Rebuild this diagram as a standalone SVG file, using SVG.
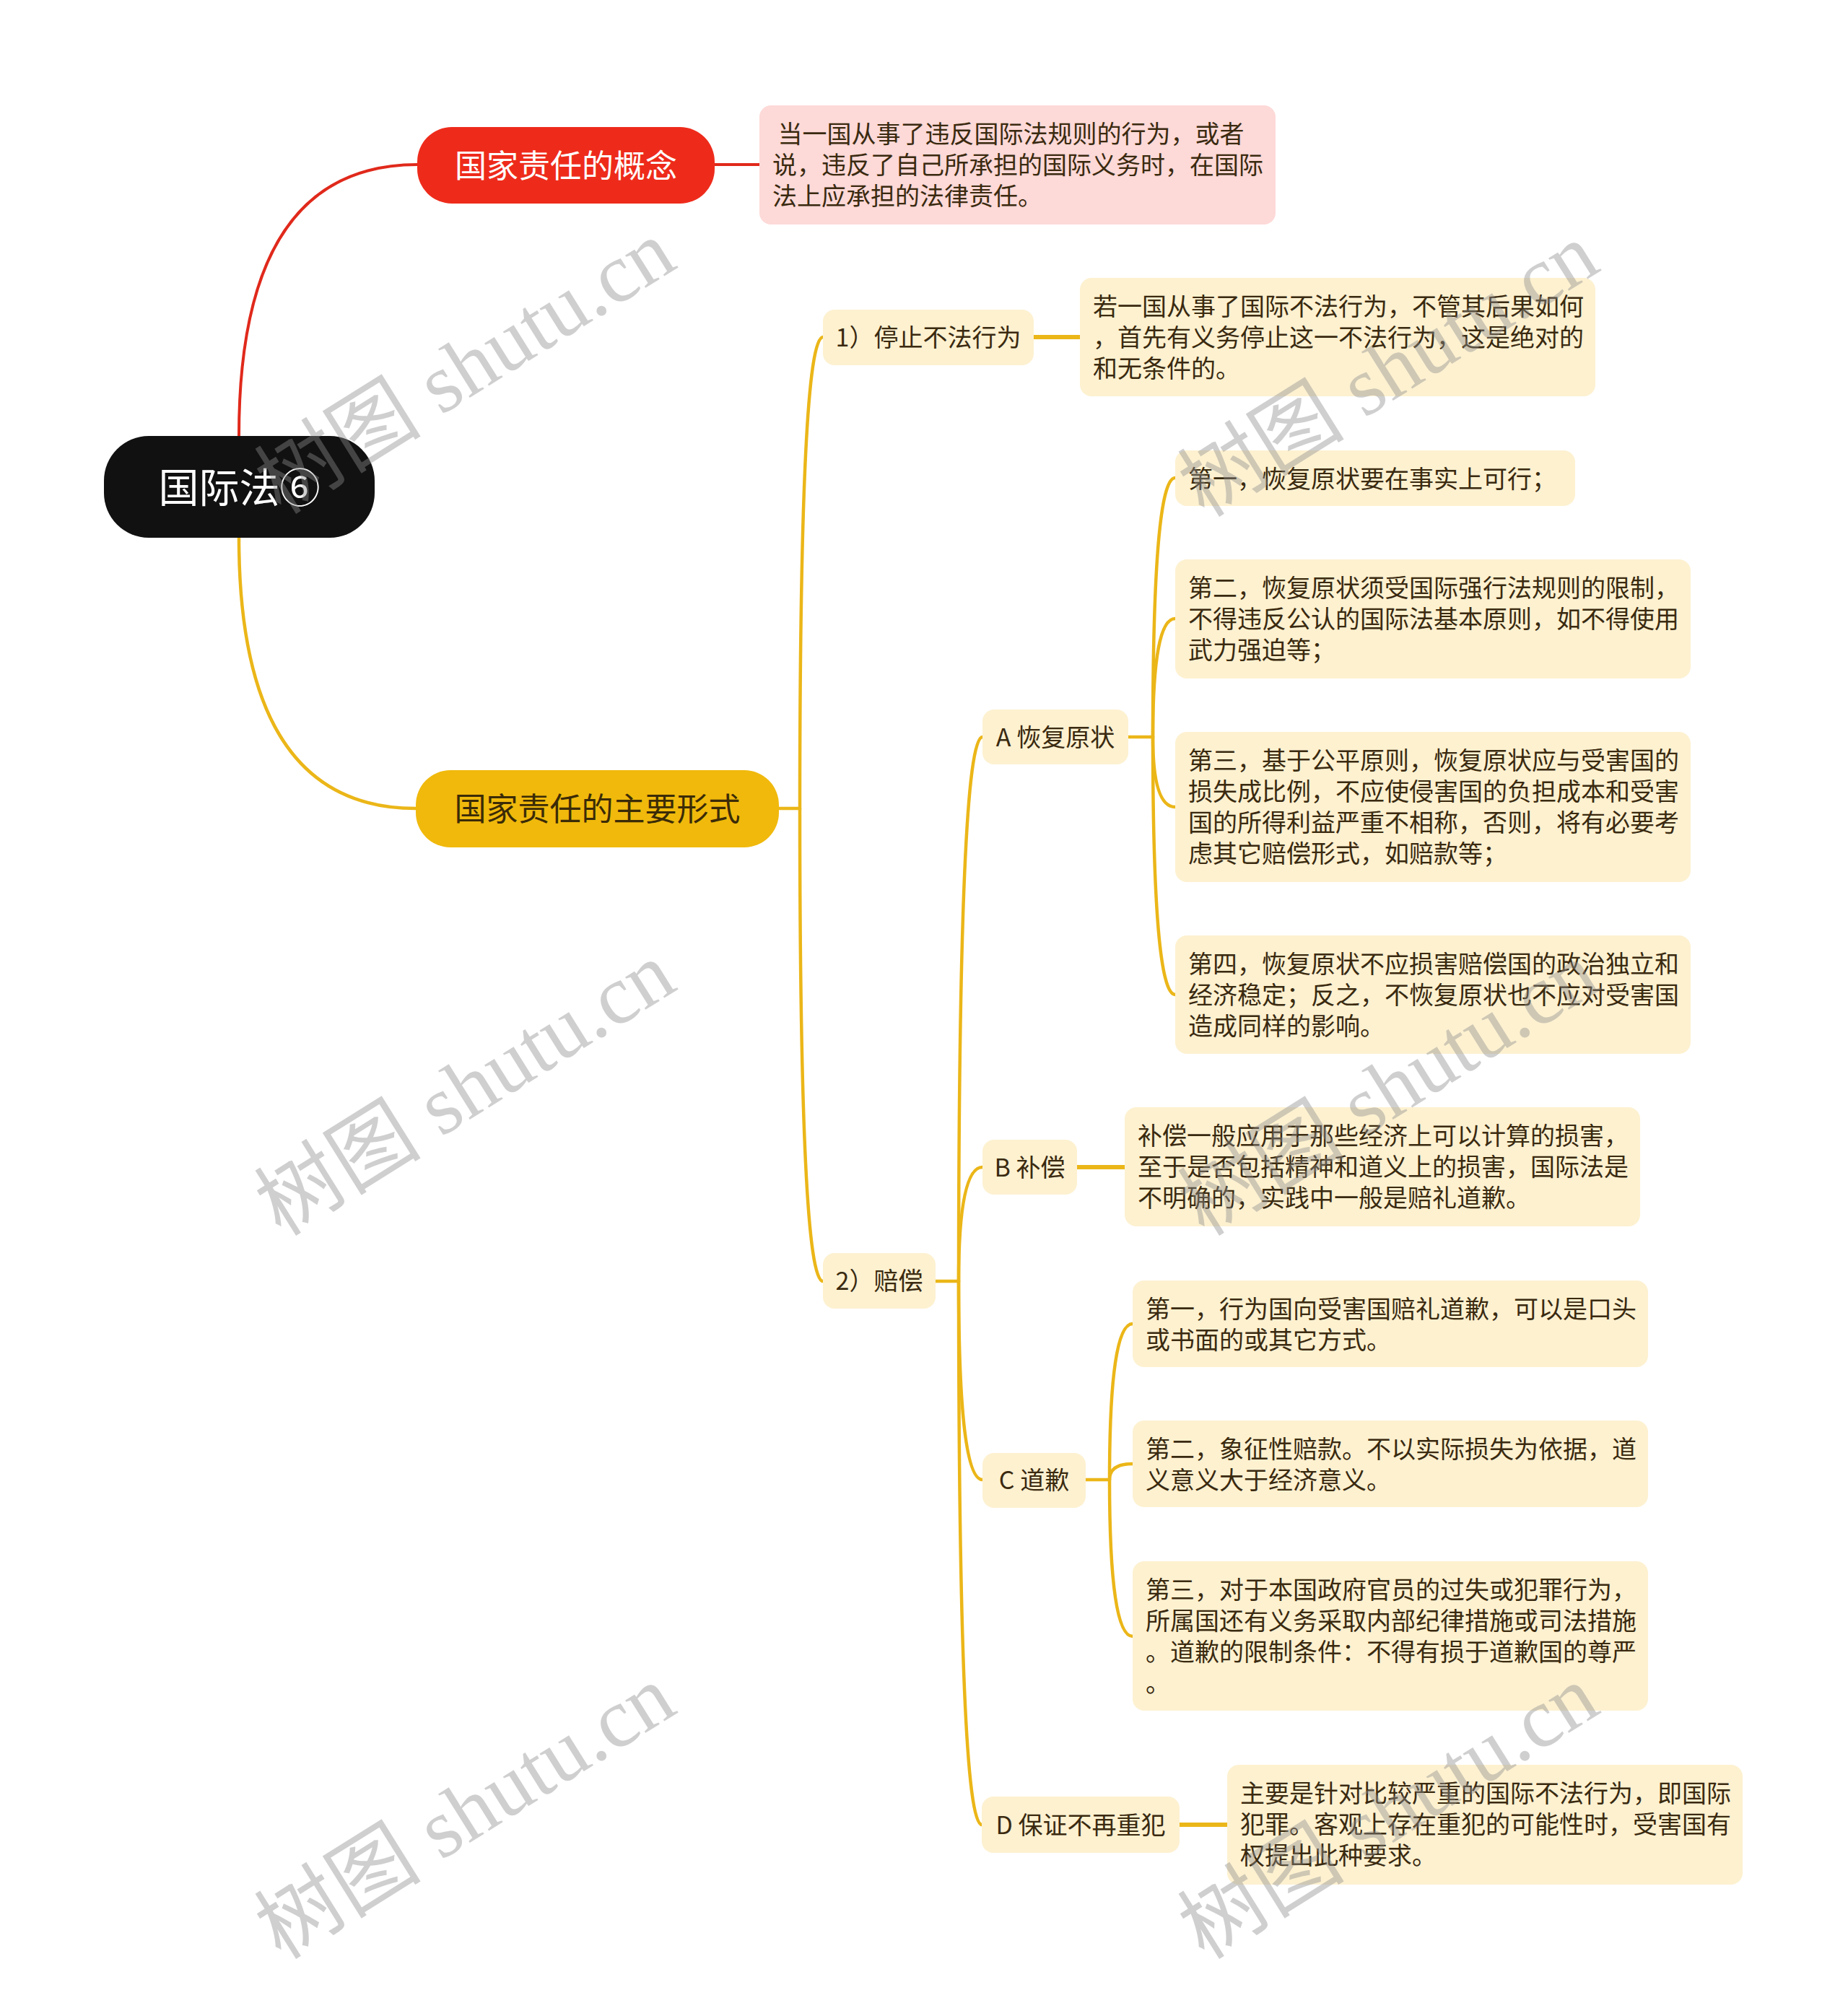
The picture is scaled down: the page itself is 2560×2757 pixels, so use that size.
<svg xmlns="http://www.w3.org/2000/svg" width="2560" height="2757" viewBox="0 0 2560 2757">
<style>
.t{font-family:"Noto Sans CJK SC","Noto Sans",sans-serif;font-size:34px;fill:#3a2a10}
.tm{text-anchor:middle}
.n{fill:#fdf1d0}
.cy{fill:none;stroke:#ebb618;stroke-width:4.5;stroke-linecap:round}
.sy{fill:none;stroke:#ebb618;stroke-width:6}
.cr{fill:none;stroke:#e0291b;stroke-width:4}
.wm{font-family:"Liberation Serif","Noto Sans CJK SC",serif;font-size:116px;fill:#8c8c8c;fill-opacity:0.42;text-anchor:middle}
</style>
<rect width="2560" height="2757" fill="#ffffff"/>
<g id="connectors">
<path class="cr" d="M331 604 Q331 228 578 228"/>
<path class="cr" d="M990 228 H1052"/>
<path class="cy" d="M331 745 Q331 1120 576 1120"/>
<path class="cy" d="M1079 1120 H1108"/>
<path class="cy" d="M1108 1120 Q1108 467 1140 467"/>
<path class="cy" d="M1108 1120 Q1108 1775 1140 1775"/>
<path class="sy" d="M1432 467 H1496"/>
<path class="cy" d="M1296 1775 H1328"/>
<path class="cy" d="M1328 1775 Q1328 1021 1361 1021"/>
<path class="cy" d="M1328 1775 Q1328 1617 1361 1617"/>
<path class="cy" d="M1328 1775 Q1328 2050 1361 2050"/>
<path class="cy" d="M1328 1775 Q1328 2528 1360 2528"/>
<path class="cy" d="M1563 1021 H1597"/>
<path class="cy" d="M1597 1021 Q1597 662 1628 662"/>
<path class="cy" d="M1597 1021 Q1597 857 1628 857"/>
<path class="cy" d="M1597 1021 Q1597 1118 1628 1118"/>
<path class="cy" d="M1597 1021 Q1597 1378 1628 1378"/>
<path class="sy" d="M1492 1617 H1558"/>
<path class="cy" d="M1504 2050 H1537"/>
<path class="cy" d="M1537 2050 Q1537 1834 1569 1834"/>
<path class="cy" d="M1537 2050 Q1537 2028 1569 2028"/>
<path class="cy" d="M1537 2050 Q1537 2267 1569 2267"/>
<path class="sy" d="M1634 2528 H1700"/>
</g>
<g id="root">
<rect x="144" y="604" width="375" height="141" rx="62" fill="#111111"/>
<text class="t tm" x="331.5" y="696" style="font-size:56px;fill:#ffffff">国际法⑥</text>
</g>
<g id="concept">
<rect x="578" y="176" width="412" height="106" rx="48" fill="#ee2b1b"/>
<text class="t tm" x="784" y="246" style="font-size:44px;fill:#ffffff">国家责任的概念</text>
</g>
<g id="concept-note">
<rect x="1052" y="146" width="715" height="165" rx="16" fill="#fdd9d7"/>
<text class="t" x="1070" y="197.5" xml:space="preserve"> 当一国从事了违反国际法规则的行为，或者</text>
<text class="t" x="1070" y="240.8">说，违反了自己所承担的国际义务时，在国际</text>
<text class="t" x="1070" y="284.1">法上应承担的法律责任。</text>
</g>
<g id="forms">
<rect x="576" y="1067" width="503" height="107" rx="48" fill="#f0b90c"/>
<text class="t tm" x="827.5" y="1137" style="font-size:44px;fill:#3b2b07">国家责任的主要形式</text>
</g>
<g id="stop">
<rect class="n" x="1140" y="429" width="292" height="77" rx="16"/>
<text class="t tm" x="1286" y="480">1）停止不法行为</text>
</g>
<g id="stop-note">
<rect class="n" x="1496" y="385" width="714" height="164" rx="16"/>
<text class="t" x="1514" y="436.5">若一国从事了国际不法行为，不管其后果如何</text>
<text class="t" x="1514" y="479.8">，首先有义务停止这一不法行为，这是绝对的</text>
<text class="t" x="1514" y="523.1">和无条件的。</text>
</g>
<g id="comp">
<rect class="n" x="1140" y="1736" width="156" height="77" rx="16"/>
<text class="t tm" x="1218" y="1787">2）赔偿</text>
</g>
<g id="a">
<rect class="n" x="1361" y="983" width="202" height="76" rx="16"/>
<text class="t tm" x="1462" y="1033.5">A 恢复原状</text>
</g>
<g id="a1">
<rect class="n" x="1628" y="624" width="554" height="77" rx="16"/>
<text class="t" x="1646" y="675.5">第一，恢复原状要在事实上可行；</text>
</g>
<g id="a2">
<rect class="n" x="1628" y="775" width="714" height="165" rx="16"/>
<text class="t" x="1646" y="826.5">第二，恢复原状须受国际强行法规则的限制，</text>
<text class="t" x="1646" y="869.8">不得违反公认的国际法基本原则，如不得使用</text>
<text class="t" x="1646" y="913.1">武力强迫等；</text>
</g>
<g id="a3">
<rect class="n" x="1628" y="1014" width="714" height="208" rx="16"/>
<text class="t" x="1646" y="1065.5">第三，基于公平原则，恢复原状应与受害国的</text>
<text class="t" x="1646" y="1108.8">损失成比例，不应使侵害国的负担成本和受害</text>
<text class="t" x="1646" y="1152.1">国的所得利益严重不相称，否则，将有必要考</text>
<text class="t" x="1646" y="1195.4">虑其它赔偿形式，如赔款等；</text>
</g>
<g id="a4">
<rect class="n" x="1628" y="1296" width="714" height="164" rx="16"/>
<text class="t" x="1646" y="1347.5">第四，恢复原状不应损害赔偿国的政治独立和</text>
<text class="t" x="1646" y="1390.8">经济稳定；反之，不恢复原状也不应对受害国</text>
<text class="t" x="1646" y="1434.1">造成同样的影响。</text>
</g>
<g id="b">
<rect class="n" x="1361" y="1579" width="131" height="76" rx="16"/>
<text class="t tm" x="1426.5" y="1629.5">B 补偿</text>
</g>
<g id="b-note">
<rect class="n" x="1558" y="1534" width="714" height="165" rx="16"/>
<text class="t" x="1576" y="1585.5">补偿一般应用于那些经济上可以计算的损害，</text>
<text class="t" x="1576" y="1628.8">至于是否包括精神和道义上的损害，国际法是</text>
<text class="t" x="1576" y="1672.1">不明确的，实践中一般是赔礼道歉。</text>
</g>
<g id="c">
<rect class="n" x="1361" y="2013" width="143" height="76" rx="16"/>
<text class="t tm" x="1432.5" y="2063">C 道歉</text>
</g>
<g id="c1">
<rect class="n" x="1569" y="1774" width="714" height="120" rx="16"/>
<text class="t" x="1587" y="1825.5">第一，行为国向受害国赔礼道歉，可以是口头</text>
<text class="t" x="1587" y="1868.8">或书面的或其它方式。</text>
</g>
<g id="c2">
<rect class="n" x="1569" y="1968" width="714" height="120" rx="16"/>
<text class="t" x="1587" y="2019.5">第二，象征性赔款。不以实际损失为依据，道</text>
<text class="t" x="1587" y="2062.8">义意义大于经济意义。</text>
</g>
<g id="c3">
<rect class="n" x="1569" y="2163" width="714" height="207" rx="16"/>
<text class="t" x="1587" y="2214.5">第三，对于本国政府官员的过失或犯罪行为，</text>
<text class="t" x="1587" y="2257.8">所属国还有义务采取内部纪律措施或司法措施</text>
<text class="t" x="1587" y="2301.1">。道歉的限制条件：不得有损于道歉国的尊严</text>
<text class="t" x="1587" y="2344.4">。</text>
</g>
<g id="d">
<rect class="n" x="1360" y="2489" width="274" height="78" rx="16"/>
<text class="t tm" x="1497" y="2540.5">D 保证不再重犯</text>
</g>
<g id="d-note">
<rect class="n" x="1700" y="2445" width="714" height="166" rx="16"/>
<text class="t" x="1718" y="2496.5">主要是针对比较严重的国际不法行为，即国际</text>
<text class="t" x="1718" y="2539.8">犯罪。客观上存在重犯的可能性时，受害国有</text>
<text class="t" x="1718" y="2583.1">权提出此种要求。</text>
</g>
<g id="watermarks">
<text class="wm" transform="translate(644 508) rotate(-32)" y="40">树图 shutu.cn</text>
<text class="wm" transform="translate(1923 512) rotate(-32)" y="40">树图 shutu.cn</text>
<text class="wm" transform="translate(644 1508) rotate(-32)" y="40">树图 shutu.cn</text>
<text class="wm" transform="translate(1923 1508) rotate(-32)" y="40">树图 shutu.cn</text>
<text class="wm" transform="translate(644 2510) rotate(-32)" y="40">树图 shutu.cn</text>
<text class="wm" transform="translate(1923 2510) rotate(-32)" y="40">树图 shutu.cn</text>
</g>
</svg>
